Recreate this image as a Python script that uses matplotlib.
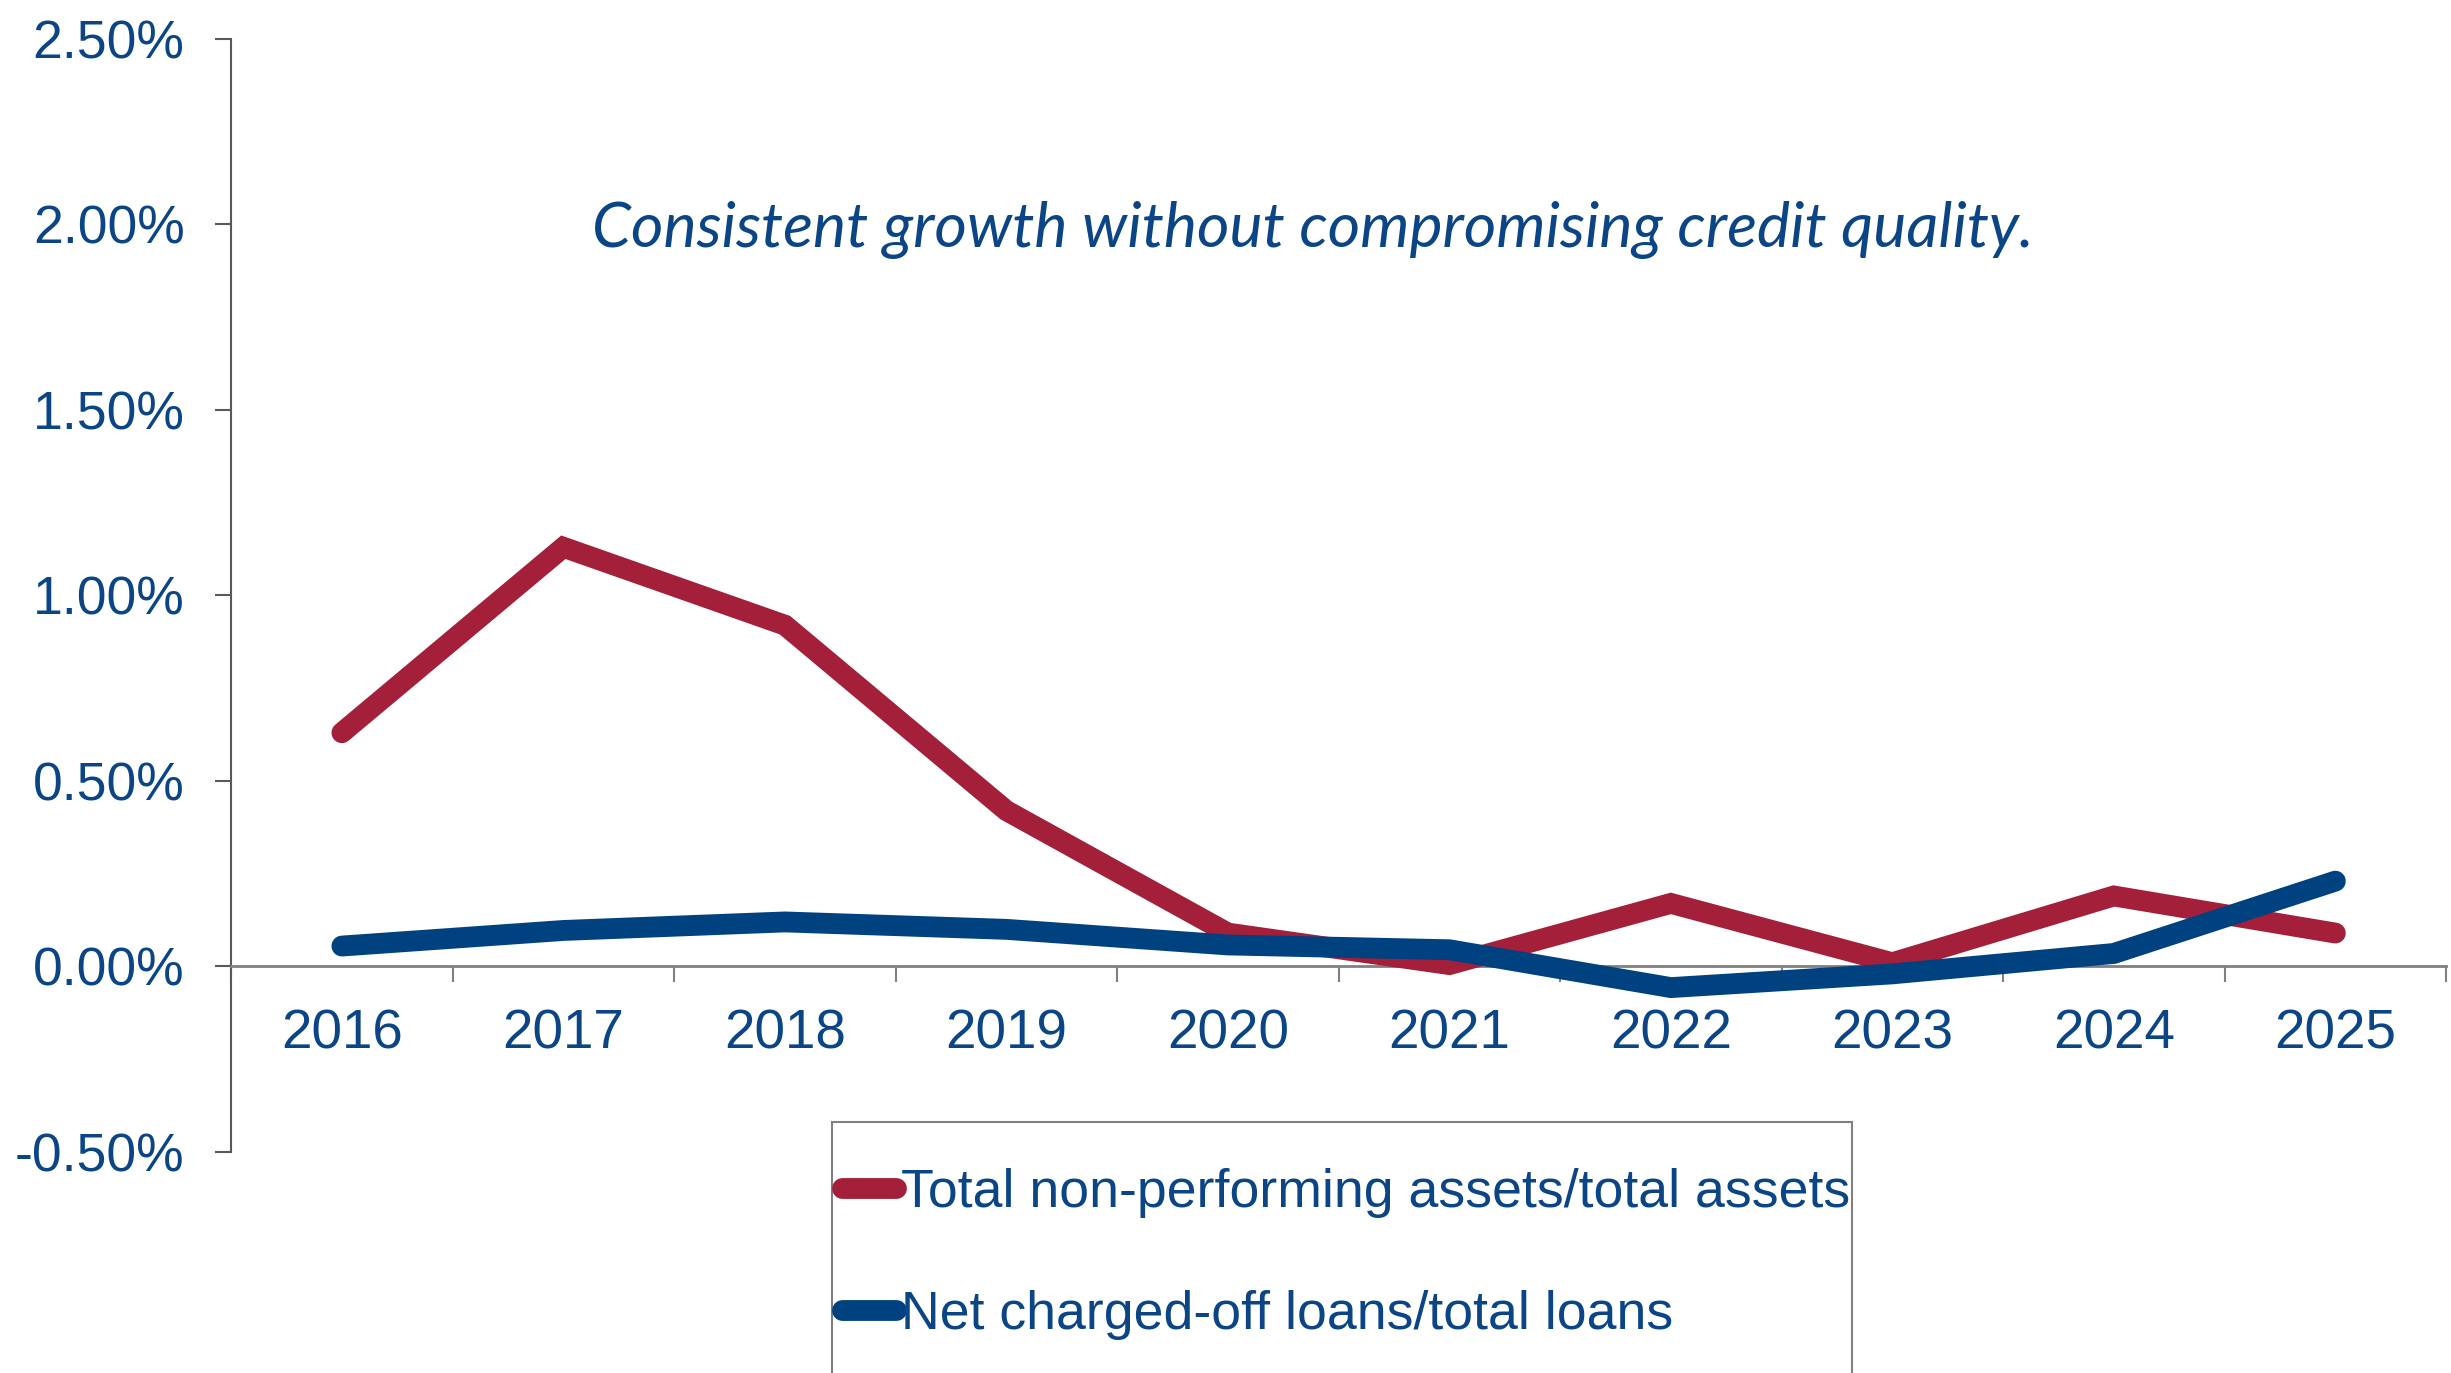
import numpy as np
import matplotlib
matplotlib.use('Agg')
import matplotlib.pyplot as plt
from matplotlib.patches import Rectangle
from matplotlib.ticker import FuncFormatter

# data (percent)
years = ['2016', '2017', '2018', '2019', '2020', '2021', '2022', '2023', '2024', '2025']
npa_ratio = [0.63, 1.13, 0.92, 0.42, 0.09, 0.005, 0.17, 0.01, 0.19, 0.09]
nco_ratio = [0.055, 0.097, 0.12, 0.10, 0.058, 0.045, -0.057, -0.02, 0.035, 0.23]
series_labels = ['Total non-performing assets/total assets',
                 'Net charged-off loans/total loans']
note = 'Consistent growth without compromising credit quality.'

RED = '#A4203A'
BLUE = '#00427F'
TEXT = '#0B4586'
AXIS = '#808080'

plt.rcParams['font.family'] = ['Liberation Sans', 'DejaVu Sans']

fig = plt.figure(figsize=(24.51, 13.73), dpi=100)
ax = fig.add_axes([0.0943, 0.161, 0.9037, 0.8106])

x = np.arange(len(years))
ax.plot(x, npa_ratio, color=RED, lw=15, solid_capstyle='round',
        solid_joinstyle='miter', label=series_labels[0], zorder=3)
ax.plot(x, nco_ratio, color=BLUE, lw=15, solid_capstyle='round',
        solid_joinstyle='miter', label=series_labels[1], zorder=4)

ax.set_xlim(-0.5, len(years) - 0.5)
ax.set_ylim(-0.5, 2.5)
ax.set_yticks(np.arange(-0.5, 2.51, 0.5))
ax.yaxis.set_major_formatter(FuncFormatter(lambda v, p: f'{v:.2f}%'))

# category boundaries as major ticks, labels on minor ticks
ax.set_xticks(np.arange(-0.5, len(years), 1.0))
ax.set_xticklabels([])
ax.set_xticks(x, minor=True)
ax.set_xticklabels(years, minor=True)

for side in ['top', 'right']:
    ax.spines[side].set_visible(False)
ax.spines['bottom'].set_position(('data', 0))
ax.spines['bottom'].set_color(AXIS)
ax.spines['bottom'].set_linewidth(2)
ax.spines['left'].set_color('#595959')
ax.spines['left'].set_linewidth(1.5)

ax.tick_params(axis='y', direction='out', length=11.5, width=1.5, color='#595959',
               labelsize=38.5, labelcolor=TEXT, pad=22)
ax.tick_params(axis='x', which='major', direction='out', length=11.5, width=1.5,
               color=AXIS)
ax.tick_params(axis='x', which='minor', length=0, labelsize=39.5,
               labelcolor=TEXT, pad=30)

fig.text(0.5357, 0.8325, note, ha='center', va='center', fontsize=45,
         style='italic', color=TEXT, family=['Lato', 'DejaVu Sans'])

# legend with a square frame running off the bottom edge
fig.patches.append(Rectangle((0.3395, -0.05), 0.4162, 0.233, transform=fig.transFigure,
                             facecolor='white', edgecolor=AXIS, lw=1.5, zorder=0))
leg = fig.legend(loc='upper left', bbox_to_anchor=(0.3435, 0.1495), frameon=False,
                 fontsize=38.6, labelcolor=TEXT, handlelength=1.0, handletextpad=0.1,
                 labelspacing=1.34, borderpad=0, borderaxespad=0)
for line in leg.get_lines():
    line.set_linewidth(15)
    line.set_solid_capstyle('round')

fig.savefig('out.png', dpi=100)
